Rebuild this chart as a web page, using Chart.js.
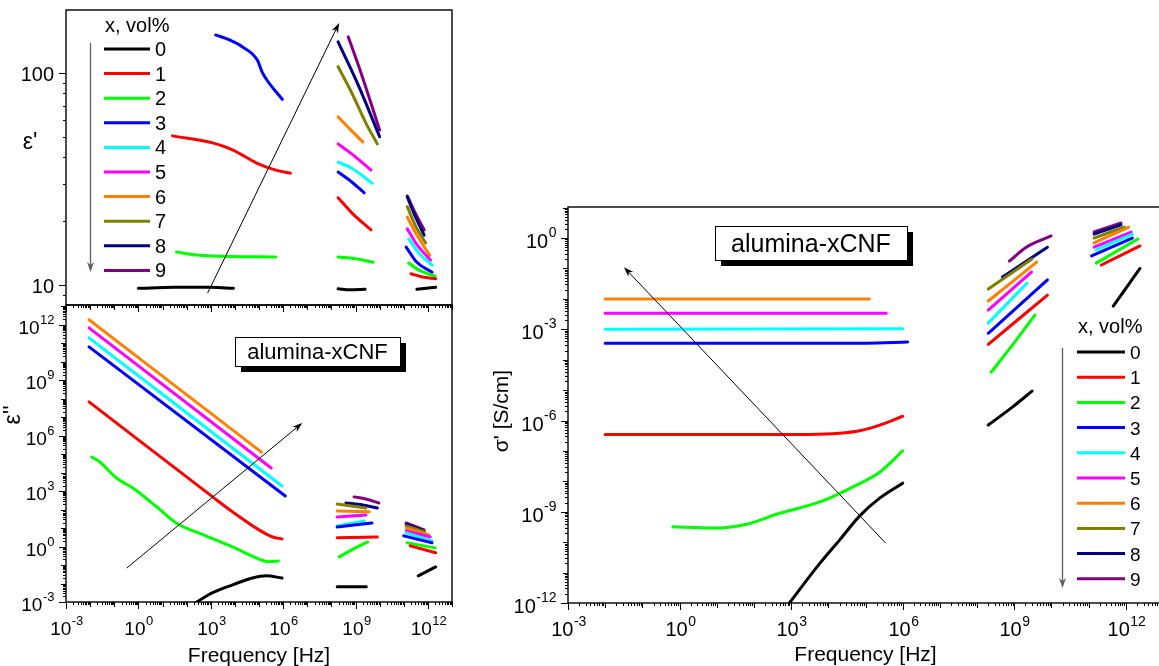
<!DOCTYPE html>
<html>
<head>
<meta charset="utf-8">
<title>alumina-xCNF dielectric spectra</title>
<script src="https://cdn.jsdelivr.net/npm/chart.js@4.4.0/dist/chart.umd.min.js"></script>
<style>
    html, body { margin: 0; padding: 0; background: #fff; overflow: hidden; width: 1159px; height: 666px; }
    canvas { position: absolute; }
    #epsRealChart { left: 0; top: 0; }
    #epsImagChart { left: 0; top: 290px; }
    #sigmaChart { left: 470px; top: 190px; }
</style>
</head>
<body>
<canvas id="epsRealChart" width="480" height="320"></canvas>
<canvas id="epsImagChart" width="480" height="376"></canvas>
<canvas id="sigmaChart" width="700" height="476"></canvas>
<script>
// Series (CNF content, vol%) and their colours
const seriesNames = ['0', '1', '2', '3', '4', '5', '6', '7', '8', '9'];
const seriesColors = ['#000000', '#ff0000', '#00ff00', '#0000ff', '#00ffff', '#ff00ff', '#ff8000', '#808000', '#000080', '#800080'];
const legendTitle = 'x, vol%';
const boxText = 'alumina-xCNF';

// Tick labels
const freqTickExps = [-3, 0, 3, 6, 9, 12];
const epsRealTicks = [10, 100];
const epsImagTickExps = [-3, 0, 3, 6, 9, 12];
const sigmaTickExps = [-12, -9, -6, -3, 0];

// ε' : [frequency Hz, value] per composition, three frequency bands
const epsRealLow = [
    [[1, 9.65], [30, 9.75], [1e3, 9.75], [8.7e3, 9.65]],
    [[26, 50.5], [1.2e3, 46.8], [8e3, 43.4], [8e4, 37.6], [5e5, 34.8], [2e6, 33.7]],
    [[38, 14.3], [200, 13.9], [1.2e3, 13.7], [5e5, 13.55]],
    [[1.6e3, 151], [6e3, 143], [2e4, 133], [8.5e4, 115], [1.4e5, 100], [9.3e5, 75]],
    [], [], [], [], [], []
];
const epsRealGHz = [
    [[1.9e8, 9.6], [6e8, 9.5], [2.5e9, 9.55]],
    [[1.9e8, 25.8], [7e8, 21.9], [4.4e9, 18.2]],
    [[1.9e8, 13.55], [1e9, 13.3], [5.4e9, 12.8]],
    [[1.9e8, 34.1], [7e8, 30.6], [2.3e9, 27.2]],
    [[1.9e8, 38], [7e8, 35.5], [4.9e9, 30.2]],
    [[1.9e8, 46.3], [7e8, 41.5], [4.4e9, 34.8]],
    [[1.9e8, 62], [6.3e8, 53.9], [2e9, 47.3]],
    [[1.9e8, 107], [7.2e8, 80], [2.7e9, 58], [8e9, 46.3]],
    [[1.9e8, 140], [1.4e9, 86], [1e10, 50]],
    [[5e8, 148], [1.7e9, 100], [1e10, 53.8]]
];
const epsRealTHz = [
    [[3.5e11, 9.55], [2.1e12, 9.75]],
    [[2e11, 11.3], [6e11, 10.9], [2.1e12, 10.7]],
    [[1.6e11, 12.7], [4.3e11, 11.75], [2e12, 11.0]],
    [[1.26e11, 15.1], [3.5e11, 12.8], [1.5e12, 11.5]],
    [[1.6e11, 16.5], [4.3e11, 14.1], [1.5e12, 12.4]],
    [[1.4e11, 18.4], [3.5e11, 15.5], [1.3e12, 13.1]],
    [[1.4e11, 20.9], [3.5e11, 17.2], [1.2e12, 13.8]],
    [[1.4e11, 23.4], [3.2e11, 18.8], [8e11, 15.8]],
    [[1.4e11, 26], [3.2e11, 20.7], [7e11, 17.2]],
    [[1.4e11, 26.3], [3.2e11, 21.5], [7e11, 18.2]]
];

// ε''
const epsImagLow = [
    [[2.6e2, 1e-3], [1.2e3, 3.2e-3], [8e3, 8.5e-3], [5.4e4, 2e-2], [2e5, 2.6e-2], [9e5, 2e-2]],
    [[9e-3, 6.8e7], [1.2e3, 4.9e2], [8e3, 76], [1e5, 8], [3.7e5, 3.3], [9e5, 2.6]],
    [[1.17e-2, 7.1e4], [2.5e-2, 3.8e4], [0.126, 5e3], [0.59, 1.48e3], [5.75, 141], [37, 19], [630, 3.8], [8e3, 0.95], [1e5, 0.21], [2.5e5, 0.15], [6.3e5, 0.166]],
    [[9e-3, 6.5e10], [1.23e6, 5.5e2]],
    [[9e-3, 2e11], [9e5, 1.9e3]],
    [[9e-3, 6.9e11], [3.2e5, 1.8e4]],
    [[9e-3, 1.9e12], [1.26e5, 1.3e5]],
    [], [], []
];
const epsImagGHz = [
    [[1.74e8, 6.6e-3], [2.8e9, 6.6e-3]],
    [[1.74e8, 3.0], [8e9, 3.3]],
    [[2.1e8, 0.275], [1e9, 0.85], [3.2e9, 1.78]],
    [[1.74e8, 11.5], [4.8e9, 19]],
    [[1.74e8, 13], [2.3e9, 24.5]],
    [[1.74e8, 40], [2.7e9, 51]],
    [[1.74e8, 85], [3.7e9, 76]],
    [[1.74e8, 200], [2.7e9, 123]],
    [[4e8, 230], [2e9, 178], [8e9, 123]],
    [[8.7e8, 490], [2.7e9, 380], [9.3e9, 230]]
];
const epsImagTHz = [
    [[4e11, 2.6e-2], [2.1e12, 7.9e-2]],
    [[1.86e11, 1.1], [2.1e12, 0.46]],
    [[1.38e11, 1.6], [2e12, 0.85]],
    [[1e11, 3.8], [1.48e12, 1.6]],
    [[1.26e11, 5.5], [1.48e12, 2.0]],
    [[1.26e11, 7.0], [1.26e12, 3.3]],
    [[1.26e11, 10], [1.1e12, 4.3]],
    [[1.26e11, 13], [7.5e11, 6.3]],
    [[1.26e11, 16], [6.9e11, 7.0]],
    [[1.26e11, 19], [6.9e11, 8.0]]
];

// σ' [S/cm]
const sigmaLow = [
    [[9e2, 1e-12], [5.9e3, 2e-11], [2e4, 1.17e-10], [6.9e4, 7.2e-10], [2.4e5, 2.8e-9], [1e6, 8.7e-9]],
    [[1e-2, 3.5e-7], [3e3, 3.5e-7], [2e4, 3.8e-7], [6.9e4, 4.6e-7], [2.4e5, 7.1e-7], [1e6, 1.38e-6]],
    [[0.66, 3.2e-10], [7.8, 2.9e-10], [63, 3.9e-10], [490, 8.9e-10], [5.9e3, 2.1e-9], [4.5e4, 6.5e-9], [2.4e5, 2e-8], [1e6, 1e-7]],
    [[1e-2, 3.5e-4], [1e5, 3.5e-4], [1.35e6, 3.8e-4]],
    [[1e-2, 1e-3], [1e6, 1.05e-3]],
    [[1e-2, 3.4e-3], [3.6e5, 3.4e-3]],
    [[1e-2, 1e-2], [1.26e5, 1e-2]],
    [], [], []
];
const sigmaGHz = [
    [[2e8, 7.1e-7], [8.9e8, 2.75e-6], [3e9, 9.3e-6]],
    [[2e8, 3.2e-4], [7.8e9, 1.32e-2]],
    [[2.4e8, 3.9e-5], [8.9e8, 3e-4], [3.6e9, 2.95e-3]],
    [[2e8, 7.4e-4], [7.8e9, 4.2e-2]],
    [[2e8, 1.6e-3], [2.2e9, 3.3e-2]],
    [[2e8, 4.3e-3], [2.9e9, 7.6e-2]],
    [[2e8, 8.5e-3], [4e9, 0.162]],
    [[2e8, 2.1e-2], [3e9, 0.204]],
    [[4.8e8, 5.2e-2], [1.35e9, 0.12], [7.8e9, 0.5]],
    [[7.4e8, 0.174], [2.1e9, 0.5], [9.8e9, 1.17]]
];
const sigmaTHz = [
    [[4.6e11, 5.8e-3], [2.4e12, 0.1]],
    [[2.2e11, 0.13], [2.4e12, 0.55]],
    [[1.6e11, 0.15], [2.1e12, 0.93]],
    [[1.2e11, 0.26], [1.5e12, 1.0]],
    [[1.6e11, 0.41], [1.5e12, 1.35]],
    [[1.4e11, 0.5], [1.4e12, 1.58]],
    [[1.4e11, 0.69], [1.2e12, 2.3]],
    [[1.4e11, 1.0], [9e11, 2.3]],
    [[1.4e11, 1.35], [7.4e11, 2.7]],
    [[1.4e11, 1.58], [7.4e11, 3.1]]
];

// Guide arrows, in data coordinates [from, to]
const epsRealArrow = [[7.4e2, 9.16], [2.1e8, 172]];
const epsImagArrow = [[0.33, 0.069], [6.2e6, 4.9e6]];
const sigmaArrow = [[3.5e5, 9.3e-11], [3.2e-2, 0.11]];

const FONT = '"Liberation Sans", Arial, Helvetica, sans-serif';

// Une las bandas de frecuencia en un dataset por composición
function buildDatasets(bands) {
    return seriesNames.map((name, i) => {
        const pts = [];
        bands.forEach(band => {
            const seg = band[i];
            if (!seg || !seg.length) return;
            if (pts.length) pts.push({ x: seg[0][0], y: null });
            seg.forEach(([f, v]) => pts.push({ x: f, y: v }));
        });
        return {
            label: name,
            data: pts,
            borderColor: seriesColors[i],
            borderWidth: 3,
            pointRadius: 0,
            fill: false,
            spanGaps: false,
            cubicInterpolationMode: 'monotone',
            borderCapStyle: 'round'
        };
    });
}

function drawArrow(ctx, x0, y0, x1, y1, color, width) {
    const ang = Math.atan2(y1 - y0, x1 - x0);
    const len = 10, half = 3.5;
    ctx.strokeStyle = color;
    ctx.fillStyle = color;
    ctx.lineWidth = width;
    ctx.beginPath();
    ctx.moveTo(x0, y0);
    ctx.lineTo(x1 - Math.cos(ang) * len * 0.7, y1 - Math.sin(ang) * len * 0.7);
    ctx.stroke();
    ctx.beginPath();
    ctx.moveTo(x1, y1);
    ctx.lineTo(x1 - Math.cos(ang) * len + Math.sin(ang) * half, y1 - Math.sin(ang) * len - Math.cos(ang) * half);
    ctx.lineTo(x1 - Math.cos(ang) * len * 0.7, y1 - Math.sin(ang) * len * 0.7);
    ctx.lineTo(x1 - Math.cos(ang) * len - Math.sin(ang) * half, y1 - Math.sin(ang) * len + Math.cos(ang) * half);
    ctx.closePath();
    ctx.fill();
}

// "10" con exponente en superíndice
function powLabel(ctx, e, x, y, align, base, sup) {
    const exp = String(e);
    ctx.font = `${base}px ${FONT}`;
    const w1 = ctx.measureText('10').width;
    ctx.font = `${sup}px ${FONT}`;
    const w2 = ctx.measureText(exp).width;
    const x0 = align === 'center' ? x - (w1 + w2) / 2 : x - (w1 + w2);
    ctx.textAlign = 'left';
    ctx.textBaseline = 'alphabetic';
    ctx.font = `${base}px ${FONT}`;
    ctx.fillText('10', x0, y);
    ctx.font = `${sup}px ${FONT}`;
    ctx.fillText(exp, x0 + w1 + 0.5, y - base * 0.52);
}

function logTickList(min, max) {
    const out = [];
    for (let e = Math.floor(Math.log10(min)); e <= Math.ceil(Math.log10(max)); e++) {
        for (let m = 1; m <= 9; m++) {
            const v = m * Math.pow(10, e);
            if (v < min * 0.999 || v > max * 1.001) continue;
            out.push({ v, e, m });
        }
    }
    return out;
}

// Ejes estilo Origin: marco, ticks hacia fuera, etiquetas, leyenda, recuadro
const originFrame = {
    id: 'originFrame',
    afterDatasetsDraw(chart, args, o) {
        const { ctx, chartArea: a, scales: { x, y } } = chart;
        ctx.save();
        ctx.strokeStyle = '#000';
        ctx.fillStyle = '#000';
        ctx.lineWidth = 1.4;
        ctx.strokeRect(a.left, a.top, a.right - a.left, a.bottom - a.top);

        // x ticks
        ctx.lineWidth = 1;
        logTickList(x.min, x.max).forEach(t => {
            const px = Math.round(x.getPixelForValue(t.v)) + 0.5;
            const len = t.m === 1 ? (freqTickExps.includes(t.e) ? 7 : 5) : 3;
            ctx.beginPath();
            ctx.moveTo(px, a.bottom);
            ctx.lineTo(px, a.bottom + len);
            ctx.stroke();
            if (o.xLabels && t.m === 1 && freqTickExps.includes(t.e)) {
                powLabel(ctx, t.e, px, a.bottom + 33, 'center', o.tickFont, o.supFont);
            }
        });

        // y ticks
        logTickList(y.min, y.max).forEach(t => {
            const py = Math.round(y.getPixelForValue(t.v)) + 0.5;
            const major = t.m === 1 && (o.yPlain ? o.yPlain.includes(t.v) : o.yExps.includes(t.e));
            const len = t.m === 1 ? (major ? 7 : 5) : 3;
            ctx.beginPath();
            ctx.moveTo(a.left - len, py);
            ctx.lineTo(a.left, py);
            ctx.stroke();
            if (!major) return;
            if (o.yPlain) {
                ctx.font = `${o.yPlainFont}px ${FONT}`;
                ctx.textAlign = 'right';
                ctx.textBaseline = 'alphabetic';
                ctx.fillText(String(t.v), a.left - 12, py + 7);
            } else {
                powLabel(ctx, t.e, a.left - 12, py + o.yLabelDy, 'right', o.tickFont, o.supFont);
            }
        });

        // titles
        if (o.xTitle) {
            ctx.font = `${o.titleFont}px ${FONT}`;
            ctx.textAlign = 'center';
            ctx.textBaseline = 'alphabetic';
            ctx.fillText(o.xTitle, (a.left + a.right) / 2, o.xTitleY);
        }
        const yt = o.yTitle;
        ctx.save();
        ctx.translate(yt.x, yt.y);
        if (yt.rotate) ctx.rotate(-Math.PI / 2);
        ctx.font = `${yt.size}px ${FONT}`;
        ctx.textAlign = 'center';
        ctx.textBaseline = 'middle';
        ctx.fillText(yt.text, 0, 0);
        ctx.restore();

        // guide arrow
        const [p0, p1] = o.arrow;
        drawArrow(ctx, x.getPixelForValue(p0[0]), y.getPixelForValue(p0[1]),
            x.getPixelForValue(p1[0]), y.getPixelForValue(p1[1]), '#000', 1);

        // label box with shadow
        if (o.box) {
            const b = o.box;
            const bx = a.left + b.dx, by = a.top + b.dy;
            ctx.fillStyle = '#000';
            ctx.fillRect(bx + 6, by + 6, b.w, b.h);
            ctx.fillStyle = '#fff';
            ctx.fillRect(bx, by, b.w, b.h);
            ctx.strokeStyle = '#000';
            ctx.lineWidth = 1;
            ctx.strokeRect(bx + 0.5, by + 0.5, b.w, b.h);
            ctx.fillStyle = '#000';
            ctx.font = `${b.font}px ${FONT}`;
            ctx.textAlign = 'center';
            ctx.textBaseline = 'alphabetic';
            ctx.fillText(boxText, bx + b.w / 2, by + b.base);
        }

        // legend
        if (o.legend) {
            const L = o.legend;
            ctx.fillStyle = '#000';
            ctx.textAlign = 'left';
            ctx.textBaseline = 'alphabetic';
            ctx.font = `${L.titleSize}px ${FONT}`;
            ctx.fillText(legendTitle, a.left + L.titleX, a.top + L.titleY);
            ctx.font = `${L.textSize}px ${FONT}`;
            seriesNames.forEach((n, i) => {
                const cy = a.top + L.rowY + i * L.rowH;
                ctx.strokeStyle = seriesColors[i];
                ctx.lineWidth = 3;
                ctx.beginPath();
                ctx.moveTo(a.left + L.lineX0, cy);
                ctx.lineTo(a.left + L.lineX1, cy);
                ctx.stroke();
                ctx.fillStyle = '#000';
                ctx.fillText(n, a.left + L.textX, cy + 7);
            });
            drawArrow(ctx, a.left + L.arrowX + 0.5, a.top + L.arrowY0, a.left + L.arrowX + 0.5, a.top + L.arrowY1, '#606060', 1.3);
        }
        ctx.restore();
    }
};

function makeChart(id, datasets, xRange, yRange, padding, frame) {
    return new Chart(document.getElementById(id).getContext('2d'), {
        type: 'line',
        data: { datasets },
        options: {
            responsive: false,
            animation: false,
            events: [],
            parsing: true,
            layout: { padding },
            scales: {
                x: { type: 'logarithmic', min: xRange[0], max: xRange[1], display: false },
                y: { type: 'logarithmic', min: yRange[0], max: yRange[1], display: false }
            },
            plugins: {
                legend: { display: false },
                tooltip: { enabled: false },
                originFrame: frame
            }
        },
        plugins: [originFrame]
    });
}

document.addEventListener('DOMContentLoaded', () => {
    // ε'
    makeChart('epsRealChart', buildDatasets([epsRealLow, epsRealGHz, epsRealTHz]),
        [1e-3, 1e13], [8.05, 198], { left: 66, top: 10, right: 28, bottom: 15 }, {
            xLabels: false, tickFont: 19, supFont: 13,
            yPlain: epsRealTicks, yPlainFont: 20,
            yTitle: { text: "ε'", x: 30, y: 143, size: 23, rotate: false },
            arrow: epsRealArrow,
            legend: {
                titleSize: 20, textSize: 20, titleX: 39, titleY: 22,
                lineX0: 38, lineX1: 84, textX: 89, rowY: 39, rowH: 24.6,
                arrowX: 24, arrowY0: 33, arrowY1: 262
            }
        });

    // ε''
    makeChart('epsImagChart', buildDatasets([epsImagLow, epsImagGHz, epsImagTHz]),
        [1e-3, 1e13], [1e-3, 1.2e13], { left: 66, top: 15, right: 28, bottom: 64 }, {
            xLabels: true, tickFont: 19, supFont: 13,
            yExps: epsImagTickExps, yLabelDy: 8,
            xTitle: 'Frequency [Hz]', xTitleY: 372, titleFont: 21,
            yTitle: { text: "ε''", x: 14, y: 125, size: 23, rotate: true },
            arrow: epsImagArrow,
            box: { dx: 169, dy: 32, w: 165, h: 29, font: 22, base: 22 }
        });

    // σ'
    makeChart('sigmaChart', buildDatasets([sigmaLow, sigmaGHz, sigmaTHz]),
        [1e-3, 1e13], [1e-12, 10.5], { left: 98, top: 17, right: 7, bottom: 63 }, {
            xLabels: true, tickFont: 20, supFont: 14,
            yExps: sigmaTickExps, yLabelDy: 9,
            xTitle: 'Frequency [Hz]', xTitleY: 471, titleFont: 21,
            yTitle: { text: "σ' [S/cm]", x: 32, y: 221, size: 21, rotate: true },
            arrow: sigmaArrow,
            box: { dx: 147, dy: 19, w: 192, h: 34, font: 25, base: 26 },
            legend: {
                titleSize: 20, textSize: 19, titleX: 510, titleY: 126,
                lineX0: 509, lineX1: 557, textX: 562, rowY: 145, rowH: 25.2,
                arrowX: 494, arrowY0: 141, arrowY1: 381
            }
        });
});
</script>
</body>
</html>
